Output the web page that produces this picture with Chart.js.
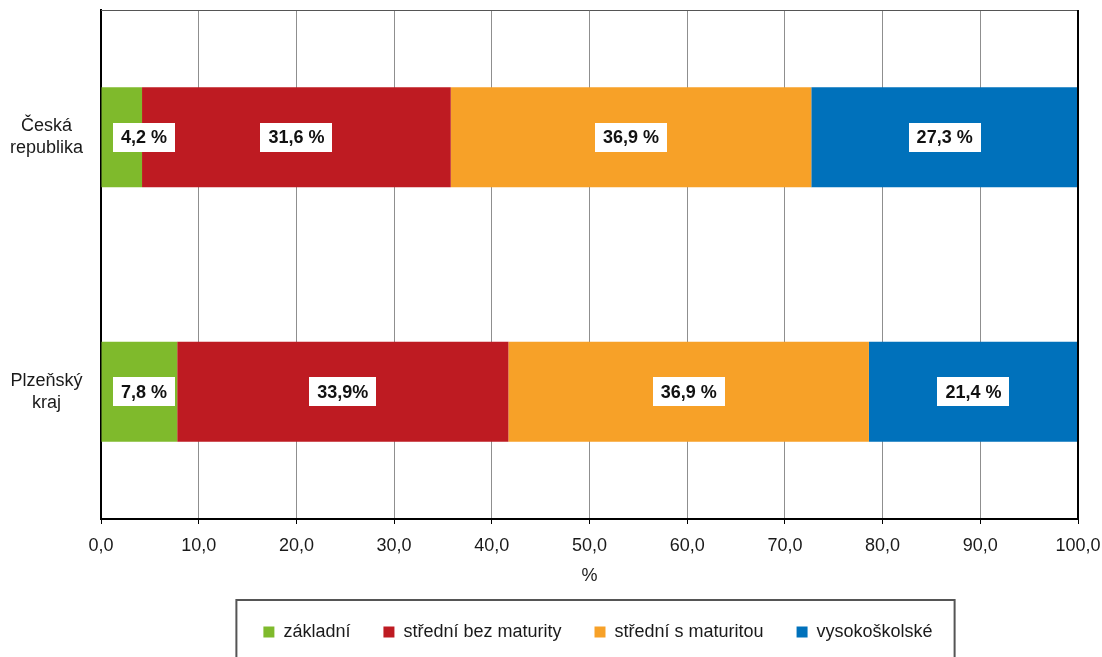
<!DOCTYPE html>
<html>
<head>
<meta charset="utf-8">
<script src="https://cdn.jsdelivr.net/npm/chart.js@4/dist/chart.umd.min.js"></script>
<style>
  html, body { margin: 0; padding: 0; background: #fff; }
  canvas { display: block; }
</style>
</head>
<body>
<canvas id="chart" width="1102" height="657"></canvas>
<script>
// categories (multi-line labels)
const regions = [["Česká", "republika"], ["Plzeňský", "kraj"]];

// series (share of population by education, %)
const seriesNames = ["základní", "střední bez maturity", "střední s maturitou", "vysokoškolské"];
const zakladni = [4.2, 7.8];
const bezMaturity = [31.6, 33.9];
const sMaturitou = [36.9, 36.9];
const vysokoskolske = [27.3, 21.4];

// data label texts as printed in the chart
const zakladniLabels = ["4,2 %", "7,8 %"];
const bezMaturityLabels = ["31,6 %", "33,9%"];
const sMaturitouLabels = ["36,9 %", "36,9 %"];
const vysokoskolskeLabels = ["27,3 %", "21,4 %"];

const colors = ["#7FBA2C", "#BE1B22", "#F7A128", "#0071BB"];
const FONT = "'Liberation Sans', Arial, sans-serif";

// white boxes with bold values inside the bars
const barLabels = {
    id: "barLabels",
    afterDatasetsDraw(chart) {
        const ctx = chart.ctx;
        const area = chart.chartArea;
        ctx.save();
        ctx.font = "bold 18px " + FONT;
        ctx.textAlign = "center";
        ctx.textBaseline = "middle";
        chart.data.datasets.forEach((ds, i) => {
            chart.getDatasetMeta(i).data.forEach((bar, j) => {
                const txt = ds.valueLabels[j];
                const w = ctx.measureText(txt).width + 16;
                const h = 29;
                let cx = (bar.x + bar.base) / 2;
                if (cx - w / 2 < area.left + 12) cx = area.left + 12 + w / 2;
                ctx.fillStyle = "#fff";
                ctx.fillRect(Math.round(cx - w / 2), Math.round(bar.y - h / 2), Math.round(w), h);
                ctx.fillStyle = "#111";
                ctx.fillText(txt, cx, bar.y + 1);
            });
        });
        ctx.restore();
    }
};

// plot frame + legend frame
const frames = {
    id: "frames",
    afterLayout(chart) {
        // legend in the original sits right of centre
        chart.legend.left += 59;
        chart.legend.right += 59;
    },
    afterDraw(chart) {
        const ctx = chart.ctx;
        const a = chart.chartArea;
        ctx.save();
        ctx.strokeStyle = "#555";
        ctx.lineWidth = 1;
        ctx.beginPath();
        ctx.moveTo(a.left, a.top + 0.5);
        ctx.lineTo(a.right, a.top + 0.5);
        ctx.stroke();
        ctx.strokeStyle = "#000";
        ctx.lineWidth = 2;
        ctx.beginPath();
        ctx.moveTo(a.right, a.top);
        ctx.lineTo(a.right, a.bottom);
        ctx.stroke();

        const boxes = chart.legend.legendHitBoxes;
        if (boxes && boxes.length) {
            const l = Math.min(...boxes.map(b => b.left)) - 27;
            const r = Math.max(...boxes.map(b => b.left + b.width)) + 22;
            const t = chart.legend.top + 10;
            ctx.strokeStyle = "#555";
            ctx.lineWidth = 2;
            ctx.strokeRect(l, t, r - l, 80);
        }
        ctx.restore();
    }
};

new Chart(document.getElementById("chart"), {
    type: "bar",
    data: {
        labels: regions,
        datasets: [
            { label: seriesNames[0], data: zakladni, valueLabels: zakladniLabels, backgroundColor: colors[0] },
            { label: seriesNames[1], data: bezMaturity, valueLabels: bezMaturityLabels, backgroundColor: colors[1] },
            { label: seriesNames[2], data: sMaturitou, valueLabels: sMaturitouLabels, backgroundColor: colors[2] },
            { label: seriesNames[3], data: vysokoskolske, valueLabels: vysokoskolskeLabels, backgroundColor: colors[3] }
        ]
    },
    options: {
        indexAxis: "y",
        responsive: false,
        animation: false,
        layout: { padding: { top: 10, right: 24, bottom: 6, left: 0 } },
        datasets: { bar: { categoryPercentage: 1, barPercentage: 0.393, borderWidth: 0 } },
        scales: {
            x: {
                stacked: true,
                min: 0,
                max: 100,
                ticks: {
                    stepSize: 10,
                    padding: 11,
                    color: "#1a1a1a",
                    font: { family: FONT, size: 18 },
                    callback: v => v.toFixed(1).replace(".", ",")
                },
                grid: { color: "#8f8f8f", lineWidth: 1, tickColor: "#000", tickLength: 5 },
                border: { color: "#000", width: 2 },
                title: {
                    display: true,
                    text: "%",
                    color: "#1a1a1a",
                    font: { family: FONT, size: 18 },
                    padding: { top: 2, bottom: 3 }
                },
                afterFit: s => { s.height = 71; s.paddingLeft = 0; s.paddingRight = 0; }
            },
            y: {
                stacked: true,
                ticks: {
                    crossAlign: "center",
                    padding: 18,
                    color: "#1a1a1a",
                    font: { family: FONT, size: 18 }
                },
                grid: { display: false, drawTicks: false },
                border: { color: "#000", width: 2 },
                afterFit: s => { s.width = 101; s.paddingTop = 0; s.paddingBottom = 0; }
            }
        },
        plugins: {
            legend: {
                position: "bottom",
                labels: {
                    boxWidth: 11,
                    boxHeight: 11,
                    padding: 33,
                    color: "#1a1a1a",
                    font: { family: FONT, size: 18 }
                }
            },
            tooltip: { enabled: false }
        }
    },
    plugins: [barLabels, frames]
});
</script>
</body>
</html>
